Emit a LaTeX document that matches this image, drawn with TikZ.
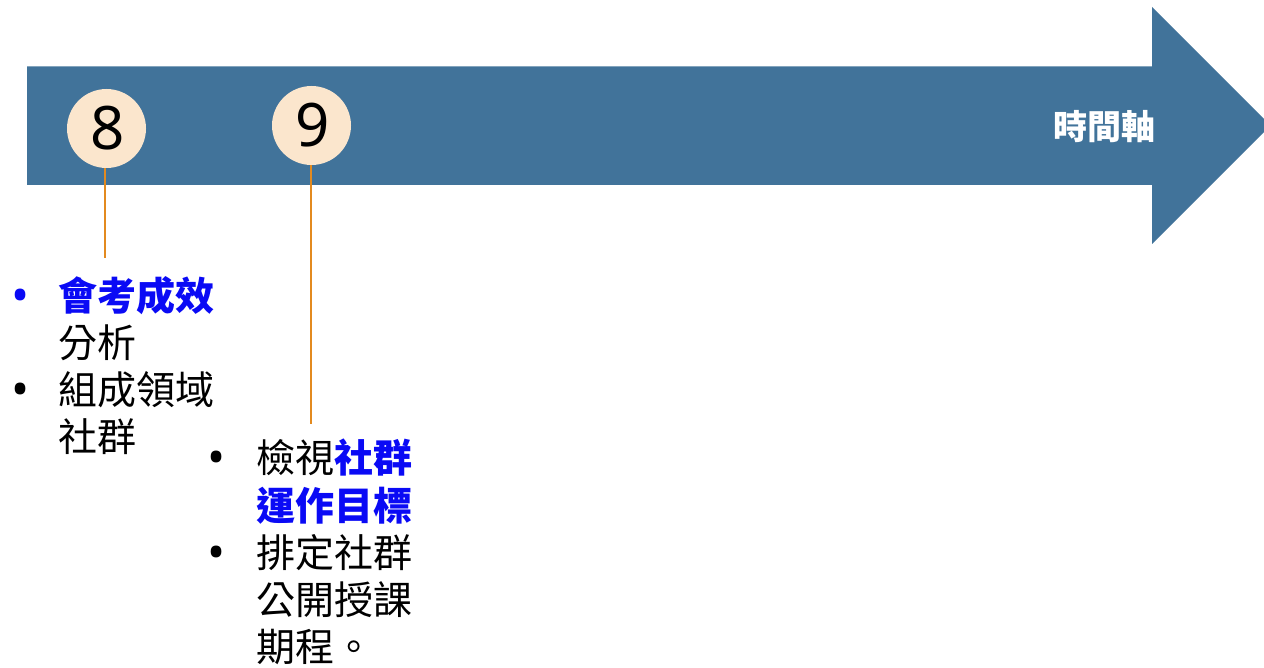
\documentclass[tikz,border=0pt]{standalone}
\usepackage{fontspec}
\setmainfont{Noto Sans}
\newfontfamily\cjk{Noto Sans CJK TC}
\definecolor{arrowblue}{HTML}{41739A}
\definecolor{peach}{HTML}{FBE6CD}
\definecolor{linkorange}{HTML}{E38A1F}
\definecolor{hiblue}{HTML}{0A0AF5}
\tikzset{
  numcircle/.style={circle, fill=peach, minimum size=79pt, inner sep=0pt, font=\fontsize{60}{64}\selectfont},
  leader/.style={draw=linkorange, line width=2pt},
  itemblock/.style={anchor=north west, inner sep=0pt, font=\cjk\fontsize{39}{46.8}\selectfont, align=left},
}
\newcommand{\bul}[1][black]{\smash{\makebox[0pt][c]{\textcolor{#1}{\fontspec{Noto Sans}\fontsize{48}{48}\selectfont \raisebox{-2pt}{•}}}}}
\begin{document}
\begin{tikzpicture}[x=1pt,y=-1pt]
\useasboundingbox (0,0) rectangle (1264,668);
\fill[arrowblue] (27,66.5) -- (1152,66.5) -- (1152,7) -- (1270.5,125.5) -- (1152,244) -- (1152,185) -- (27,185) -- cycle;
\node[font=\cjk\bfseries\fontsize{34}{36}\selectfont, text=white] (axis) at (1104,127) {時間軸};
\node[numcircle] (c8) at (106.5,128.5) {\kern2pt 8};
\node[numcircle] (c9) at (311.5,125.5) {\kern2pt 9};
\coordinate (e8) at (105,258);
\coordinate (e9) at (311,424);
\draw[leader] (c8.south -| e8) -- (e8);
\draw[leader] (c9.south -| e9) -- (e9);
\node[itemblock] (b8) at (0,276) {%
\begin{tabular}{@{}p{58pt}@{}l@{}}
\hspace{20pt}\bul[hiblue] & \textcolor{hiblue}{\bfseries 會考成效}\\
 & 分析\\
\hspace{20pt}\bul & 組成領域\\
 & 社群
\end{tabular}};
\node[itemblock] (b9) at (196,439) {%
\begin{tabular}{@{}p{60pt}@{}l@{}}
\hspace{20pt}\bul & 檢視\textcolor{hiblue}{\bfseries 社群}\\
 & \textcolor{hiblue}{\bfseries 運作目標}\\
\hspace{20pt}\bul & 排定社群\\
 & 公開授課\\
 & 期程。
\end{tabular}};
\end{tikzpicture}
\end{document}
